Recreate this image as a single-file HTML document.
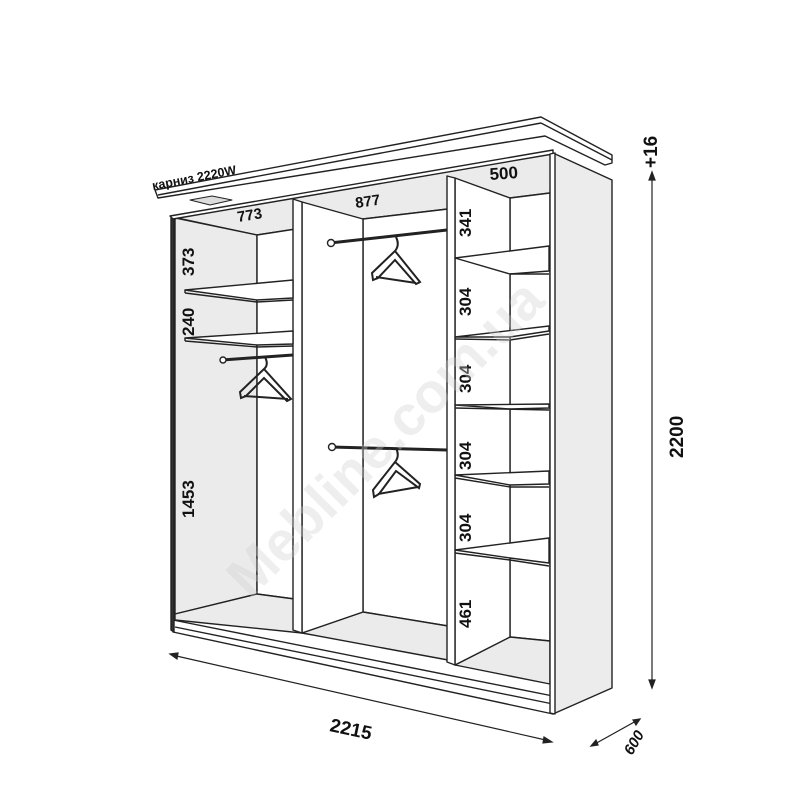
<!DOCTYPE html>
<html><head><meta charset="utf-8"><style>html,body{margin:0;padding:0;background:#fff}svg{display:block}</style></head>
<body>
<svg width="800" height="800" viewBox="0 0 800 800" xmlns="http://www.w3.org/2000/svg" font-family="'Liberation Sans', sans-serif">
<g stroke="#222" stroke-width="1.4" stroke-linejoin="round">
<polygon points="553,153 612,180 612,688 553,714" fill="#ececec"/>
<polygon points="173,217 553,153 550,193 510,198 448,209 363,219 257,235" fill="#ebebeb"/>
<polygon points="175,218 257,235 257,594 175,614" fill="#ebebeb"/>
<polygon points="257,235 302,228 302,600 257,594" fill="#fff"/>
<polygon points="363,219 448,209 448,626 363,612" fill="#fff"/>
<polygon points="510,198 550,193 550,641 510,637" fill="#fff"/>
<polygon points="175,614 257,594 302,600 302,633 175,620" fill="#ebebeb"/>
<polygon points="302,633 363,612 448,626 448,660" fill="#ebebeb"/>
<polygon points="455,665 510,637 550,641 550,684" fill="#ebebeb"/>
<polygon points="173,620 553,696 553,714 173,632" fill="#fff"/>
<line x1="175" y1="627" x2="553" y2="704"/>
<polygon points="171,218 174,218 174,632 171,630" fill="#333"/>
<polygon points="170,216 553,150 553,154 173,219" fill="#fff"/>
<polygon points="550,154 555,153 555,714 550,713" fill="#fff"/>
<polygon points="302,202 363,219 363,612 302,633" fill="#fff"/>
<polygon points="293,199 302,202 302,633 293,630" fill="#fff"/>
<polygon points="455,178 510,198 510,637 455,665" fill="#fff"/>
<polygon points="447,176 455,178 455,665 447,662" fill="#fff"/>
<polygon points="185,290 293,280 293,298 257,300" fill="#fff"/>
<line x1="185" y1="290" x2="185" y2="293"/><line x1="185" y1="293" x2="257" y2="302"/><line x1="257" y1="302" x2="293" y2="300"/>
<polygon points="185,338 293,331 293,344 257,345" fill="#fff"/>
<line x1="185" y1="338" x2="185" y2="341"/><line x1="185" y1="341" x2="257" y2="347"/><line x1="257" y1="347" x2="293" y2="346"/>
<polygon points="455,258 549,246 549,271 510,274" fill="#fff"/><line x1="510" y1="274" x2="549" y2="274"/>
<polygon points="455,337 549,326 549,331 510,337" fill="#fff"/><line x1="455" y1="339" x2="510" y2="340"/><line x1="510" y1="340" x2="549" y2="334"/>
<polygon points="455,405 549,404 549,408 510,409" fill="#fff"/><line x1="455" y1="408" x2="549" y2="410"/>
<polygon points="455,475 549,471 549,484 510,485" fill="#fff"/><line x1="455" y1="478" x2="510" y2="487"/><line x1="510" y1="487" x2="549" y2="487"/>
<polygon points="455,550 549,538 549,563 510,558" fill="#fff"/><line x1="455" y1="553" x2="510" y2="560"/><line x1="510" y1="560" x2="549" y2="566"/>
<polygon points="155,190 541,117 612,155 612,163 605,165 545,136 158,198" fill="#fff"/>
<line x1="158" y1="195" x2="541" y2="123"/>
<line x1="541" y1="123" x2="612" y2="160"/>
<polygon points="190,200 212,196 232,200 210,205" fill="#ddd" stroke-width="1"/>
<line x1="222" y1="360" x2="293" y2="355" stroke-width="3"/>
<circle cx="223" cy="360" r="3" fill="#fff"/>
<line x1="330" y1="243" x2="447" y2="230" stroke-width="3"/>
<circle cx="331" cy="243" r="3.5" fill="#fff"/>
<line x1="331" y1="447" x2="447" y2="450" stroke-width="3"/>
<circle cx="332" cy="447" r="3.5" fill="#fff"/>
</g>
<g fill="none" stroke="#222" stroke-width="2">
<path d="M396,237 q4,8 -1,14 M395,251 L372,273 L373,280 L378,278 L395,260 L416,284 L420,282 L395,251 M376,277 L416,283"/>
<path d="M265,357 q4,8 -1,12 M264,369 L240,392 L241,398 L246,396 L264,378 L287,401 L291,399 L264,369 M244,396 L288,399"/>
<path d="M396,448 q4,8 -1,14 M395,462 L373,490 L374,497 L379,494 L396,471 L419,488 L420,484 L395,462 M378,494 L418,487"/>
</g>
<g stroke="#222" stroke-width="1.2" fill="#222">
<line x1="172" y1="655" x2="550" y2="741"/>
<polygon points="170,654 178,653 177,659"/>
<polygon points="552,742 544,737 543,743"/>
<line x1="652" y1="176" x2="652" y2="684"/>
<polygon points="652,172 649,180 655,180"/><polygon points="652,688 649,680 655,680"/>
<line x1="593" y1="745" x2="638" y2="720"/>
<polygon points="591,746 596,740 598,745"/><polygon points="640,719 633,720 636,725"/>
</g>
<g fill="#111" font-weight="bold" font-size="17">
<text transform="translate(194,276) rotate(-90)">373</text>
<text transform="translate(194,336) rotate(-90)">240</text>
<text transform="translate(194,518) rotate(-90)">1453</text>
<text transform="translate(471,237) rotate(-90)">341</text>
<text transform="translate(471,316) rotate(-90)">304</text>
<text transform="translate(471,393) rotate(-90)">304</text>
<text transform="translate(471,470) rotate(-90)">304</text>
<text transform="translate(471,542) rotate(-90)">304</text>
<text transform="translate(471,628) rotate(-90)">461</text>
<text transform="translate(238,222) rotate(-9)" font-size="15">773</text>
<text transform="translate(356,208) rotate(-8)" font-size="15">877</text>
<text transform="translate(490,180) rotate(-4)" font-size="17">500</text>
<text transform="translate(329,731) rotate(12)" font-size="19">2215</text>
<text transform="translate(683,458) rotate(-90)" font-size="19">2200</text>
<text transform="translate(657,168) rotate(-90)" font-size="19">+16</text>
<text transform="translate(632,756) rotate(-60)" font-size="15" font-style="italic">600</text>
<text transform="translate(153,190) rotate(-11)" font-size="12.5">карниз 2220W</text>
</g>
<text x="0" y="0" transform="translate(250,600) rotate(-45)" font-size="56" font-weight="bold" fill="#cfcfcf" fill-opacity="0.35">Mebline.com.ua</text>
</svg>
</body></html>
